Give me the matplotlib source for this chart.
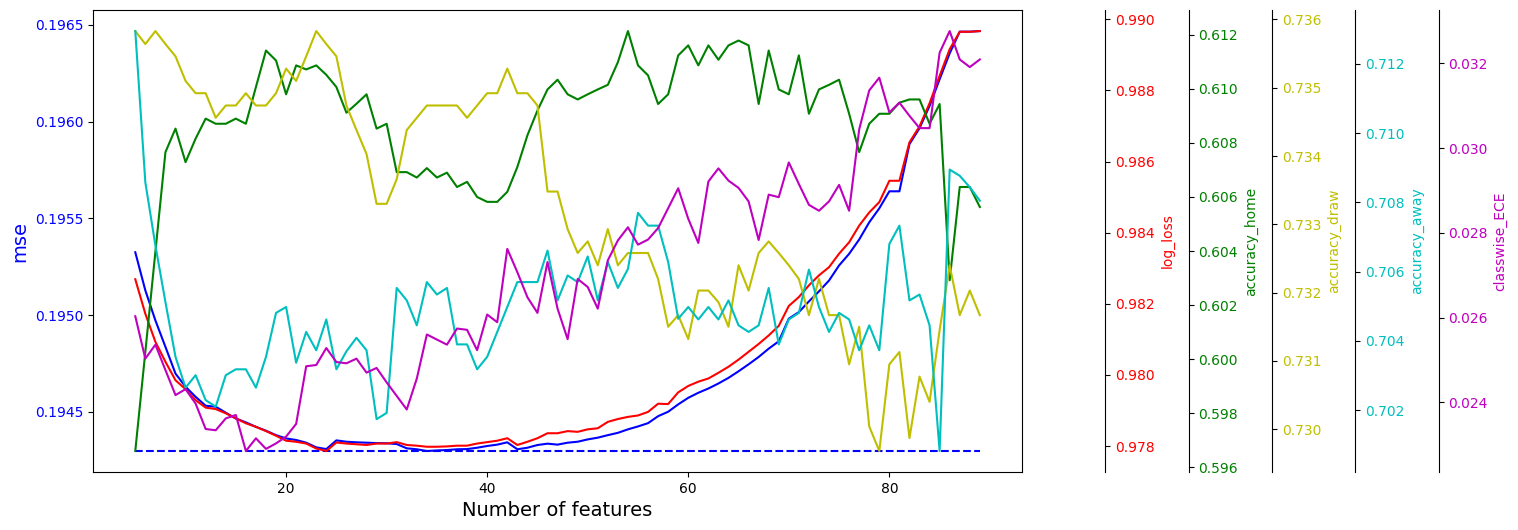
import matplotlib
matplotlib.use("Agg")
import matplotlib.pyplot as plt

# number of features used in each run
n_features = list(range(5, 90))

mse = [0.195325, 0.195128, 0.194973, 0.194836, 0.194698, 0.194630, 0.194578, 0.194532, 0.194527, 0.194496,
       0.194466, 0.194446, 0.194423, 0.194403, 0.194380, 0.194363, 0.194355, 0.194341, 0.194317, 0.194308,
       0.194353, 0.194346, 0.194343, 0.194341, 0.194339, 0.194338, 0.194334, 0.194312, 0.194307, 0.194298,
       0.194301, 0.194303, 0.194307, 0.194308, 0.194315, 0.194324, 0.194331, 0.194343, 0.194307, 0.194315,
       0.194329, 0.194336, 0.194331, 0.194341, 0.194346, 0.194358, 0.194367, 0.194380, 0.194392, 0.194410,
       0.194425, 0.194442, 0.194478, 0.194501, 0.194539, 0.194573, 0.194599, 0.194621, 0.194647, 0.194676,
       0.194710, 0.194746, 0.194784, 0.194827, 0.194865, 0.194982, 0.195016, 0.195071, 0.195123, 0.195179,
       0.195257, 0.195317, 0.195391, 0.195480, 0.195552, 0.195640, 0.195640, 0.195884, 0.195966, 0.196081,
       0.196219, 0.196353, 0.196465, 0.196465, 0.196468]

log_loss = [0.98269, 0.98172, 0.98093, 0.98037, 0.97985, 0.97960, 0.97929, 0.97908, 0.97904, 0.97892,
            0.97878, 0.97864, 0.97854, 0.97842, 0.97829, 0.97815, 0.97812, 0.97807, 0.97793, 0.97786,
            0.97810, 0.97807, 0.97805, 0.97803, 0.97807, 0.97807, 0.97811, 0.97803, 0.97801, 0.97798,
            0.97798, 0.97799, 0.97801, 0.97801, 0.97807, 0.97811, 0.97815, 0.97822, 0.97803, 0.97812,
            0.97822, 0.97836, 0.97836, 0.97842, 0.97840, 0.97847, 0.97850, 0.97868, 0.97876, 0.97882,
            0.97886, 0.97896, 0.97919, 0.97918, 0.97951, 0.97969, 0.97981, 0.97990, 0.98006, 0.98023,
            0.98043, 0.98065, 0.98087, 0.98111, 0.98138, 0.98194, 0.98219, 0.98252, 0.98280, 0.98303,
            0.98341, 0.98373, 0.98420, 0.98457, 0.98486, 0.98546, 0.98546, 0.98654, 0.98699, 0.98764,
            0.98841, 0.98916, 0.98965, 0.98965, 0.98967]

accuracy_home = [0.59660, 0.60027, 0.60397, 0.60766, 0.60853, 0.60729, 0.60816, 0.60890, 0.60871, 0.60871,
                 0.60890, 0.60871, 0.61007, 0.61142, 0.61105, 0.60980, 0.61087, 0.61072, 0.61087, 0.61052,
                 0.61007, 0.60912, 0.60945, 0.60980, 0.60853, 0.60871, 0.60692, 0.60692, 0.60672, 0.60707,
                 0.60672, 0.60690, 0.60637, 0.60656, 0.60600, 0.60582, 0.60582, 0.60619, 0.60711, 0.60828,
                 0.60920, 0.60998, 0.61034, 0.60980, 0.60961, 0.60980, 0.60998, 0.61015, 0.61099, 0.61214,
                 0.61087, 0.61050, 0.60944, 0.60980, 0.61124, 0.61161, 0.61087, 0.61161, 0.61108, 0.61161,
                 0.61179, 0.61161, 0.60944, 0.61142, 0.60998, 0.60980, 0.61124, 0.60908, 0.60998, 0.61015,
                 0.61034, 0.60908, 0.60766, 0.60871, 0.60908, 0.60908, 0.60949, 0.60961, 0.60961, 0.60871,
                 0.60944, 0.60292, 0.60637, 0.60637, 0.60563]

accuracy_draw = [0.73583, 0.73564, 0.73583, 0.73564, 0.73546, 0.73510, 0.73492, 0.73492, 0.73456, 0.73474,
                 0.73474, 0.73492, 0.73474, 0.73474, 0.73492, 0.73528, 0.73510, 0.73546, 0.73583, 0.73564,
                 0.73546, 0.73474, 0.73438, 0.73403, 0.73330, 0.73330, 0.73366, 0.73438, 0.73456, 0.73474,
                 0.73474, 0.73474, 0.73474, 0.73456, 0.73474, 0.73492, 0.73492, 0.73528, 0.73492, 0.73492,
                 0.73474, 0.73348, 0.73348, 0.73293, 0.73258, 0.73275, 0.73240, 0.73293, 0.73240, 0.73258,
                 0.73258, 0.73258, 0.73220, 0.73150, 0.73167, 0.73132, 0.73203, 0.73203, 0.73186, 0.73150,
                 0.73240, 0.73203, 0.73258, 0.73275, 0.73258, 0.73240, 0.73220, 0.73167, 0.73220, 0.73167,
                 0.73167, 0.73095, 0.73150, 0.73004, 0.72968, 0.73095, 0.73113, 0.72987, 0.73077, 0.73040,
                 0.73145, 0.73240, 0.73167, 0.73203, 0.73167]

accuracy_away = [0.71295, 0.70858, 0.70676, 0.70512, 0.70354, 0.70265, 0.70301, 0.70229, 0.70210, 0.70301,
                 0.70318, 0.70318, 0.70265, 0.70354, 0.70481, 0.70498, 0.70337, 0.70426, 0.70373, 0.70462,
                 0.70318, 0.70370, 0.70409, 0.70373, 0.70174, 0.70192, 0.70553, 0.70517, 0.70445, 0.70570,
                 0.70534, 0.70553, 0.70390, 0.70390, 0.70318, 0.70354, 0.70426, 0.70498, 0.70570, 0.70570,
                 0.70570, 0.70661, 0.70517, 0.70589, 0.70570, 0.70644, 0.70517, 0.70628, 0.70553, 0.70608,
                 0.70770, 0.70733, 0.70733, 0.70628, 0.70464, 0.70498, 0.70462, 0.70498, 0.70462, 0.70517,
                 0.70445, 0.70426, 0.70445, 0.70553, 0.70390, 0.70462, 0.70481, 0.70606, 0.70498, 0.70426,
                 0.70481, 0.70462, 0.70373, 0.70445, 0.70373, 0.70680, 0.70733, 0.70517, 0.70534, 0.70445,
                 0.70082, 0.70895, 0.70877, 0.70844, 0.70805]

classwise_ece = [0.02603, 0.02503, 0.02536, 0.02476, 0.02417, 0.02431, 0.02397, 0.02337, 0.02334, 0.02362,
                 0.02370, 0.02285, 0.02315, 0.02290, 0.02303, 0.02319, 0.02349, 0.02485, 0.02488, 0.02528,
                 0.02495, 0.02492, 0.02503, 0.02470, 0.02481, 0.02447, 0.02415, 0.02383, 0.02456, 0.02560,
                 0.02548, 0.02536, 0.02574, 0.02571, 0.02523, 0.02607, 0.02589, 0.02762, 0.02707, 0.02648,
                 0.02611, 0.02731, 0.02621, 0.02549, 0.02691, 0.02672, 0.02621, 0.02735, 0.02782, 0.02813,
                 0.02772, 0.02784, 0.02811, 0.02858, 0.02905, 0.02833, 0.02776, 0.02921, 0.02952, 0.02923,
                 0.02906, 0.02874, 0.02783, 0.02890, 0.02884, 0.02966, 0.02915, 0.02866, 0.02852, 0.02874,
                 0.02913, 0.02852, 0.03044, 0.03136, 0.03166, 0.03084, 0.03107, 0.03076, 0.03047, 0.03047,
                 0.03225, 0.03276, 0.03209, 0.03191, 0.03209]

extra_metrics = [
    ("log_loss", log_loss, "r"),
    ("accuracy_home", accuracy_home, "g"),
    ("accuracy_draw", accuracy_draw, "y"),
    ("accuracy_away", accuracy_away, "c"),
    ("classwise_ECE", classwise_ece, "m"),
]

fig, ax = plt.subplots(figsize=(15.18, 5.3), dpi=100)
fig.subplots_adjust(left=0.0613, right=0.6733, top=0.981, bottom=0.1094)

ax.plot(n_features, mse, color="b")
ax.hlines(min(mse), n_features[0], n_features[-1], colors="b", linestyles="--")
ax.set_xlabel("Number of features", fontsize=14)
ax.set_ylabel("mse", color="b", fontsize=14)
ax.tick_params(axis="y", labelcolor="b")

# one extra y axis per metric, stacked to the right
for i, (name, values, color) in enumerate(extra_metrics):
    twin = ax.twinx()
    twin.spines["right"].set_position(("outward", 60 * (i + 1)))
    for side in ["top", "bottom", "left"]:
        twin.spines[side].set_visible(False)
    twin.plot(n_features, values, color=color)
    twin.set_ylabel(name, color=color)
    twin.tick_params(axis="y", labelcolor=color)

fig.savefig("out.png")
